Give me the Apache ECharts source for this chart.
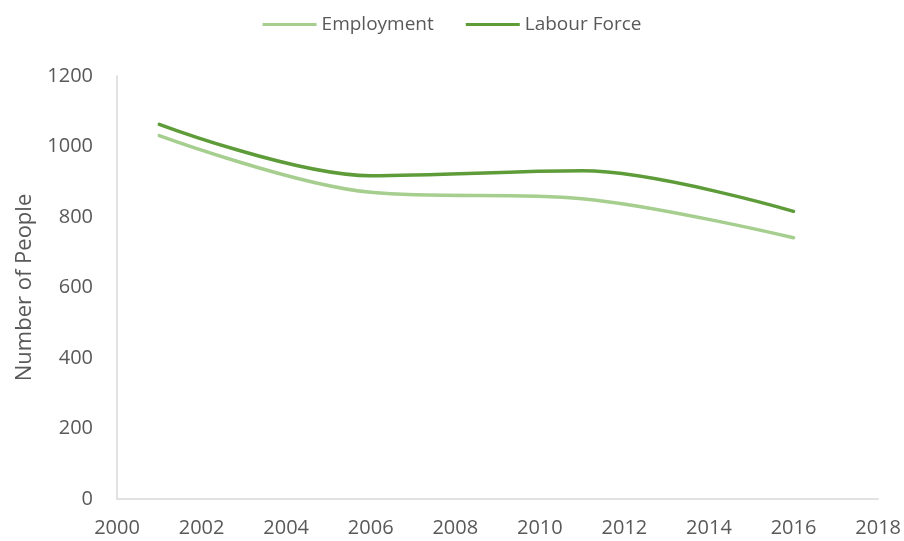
<!DOCTYPE html>
<html>
<head>
<meta charset="utf-8">
<script src="https://cdn.jsdelivr.net/npm/echarts@6/dist/echarts.min.js"></script>
<style>
  html, body { margin: 0; padding: 0; background: #fff; }
  #chart { width: 904px; height: 541px; }
</style>
</head>
<body>
<div id="chart"></div>
<script>
// Census years and counts
const years = [2001, 2006, 2011, 2016];
const employment = [1031, 870, 852, 741];
const labourForce = [1063, 917, 931, 816];
const seriesNames = ['Employment', 'Labour Force'];

const font = '"Open Sans", "Noto Sans", sans-serif';
const textColor = '#595959';
const plain = v => String(v);

const chart = echarts.init(document.getElementById('chart'));
chart.setOption({
  animation: false,
  textStyle: { fontFamily: font },
  legend: {
    top: 10,
    left: 'center',
    itemWidth: 54,
    itemHeight: 3,
    itemGap: 32,
    icon: 'rect',
    textStyle: { color: textColor, fontSize: 19, fontFamily: font },
    data: seriesNames
  },
  grid: { left: 117, right: 24, top: 76, bottom: 42 },
  xAxis: {
    type: 'value',
    min: 2000,
    max: 2018,
    interval: 2,
    axisLine: { lineStyle: { color: '#D9D9D9', width: 1.5 } },
    axisTick: { show: false },
    splitLine: { show: false },
    axisLabel: { color: textColor, fontSize: 20, margin: 19, fontFamily: font, formatter: plain }
  },
  yAxis: {
    type: 'value',
    min: 0,
    max: 1200,
    interval: 200,
    name: 'Number of People',
    nameLocation: 'middle',
    nameGap: 81,
    nameTextStyle: { color: textColor, fontSize: 22, fontFamily: font },
    axisLine: { show: true, lineStyle: { color: '#D9D9D9', width: 1.5 } },
    axisTick: { show: false },
    splitLine: { show: false },
    axisLabel: { color: textColor, fontSize: 20, margin: 24, fontFamily: font, formatter: plain }
  },
  series: [
    {
      name: seriesNames[0],
      type: 'line',
      smooth: 0.34,
      showSymbol: false,
      symbol: 'none',
      lineStyle: { color: '#A6CE8F', width: 3.5, cap: 'round' },
      itemStyle: { color: '#A6CE8F' },
      data: years.map((y, i) => [y, employment[i]])
    },
    {
      name: seriesNames[1],
      type: 'line',
      smooth: 0.34,
      showSymbol: false,
      symbol: 'none',
      lineStyle: { color: '#5E9C3A', width: 3.5, cap: 'round' },
      itemStyle: { color: '#5E9C3A' },
      data: years.map((y, i) => [y, labourForce[i]])
    }
  ]
});
</script>
</body>
</html>
